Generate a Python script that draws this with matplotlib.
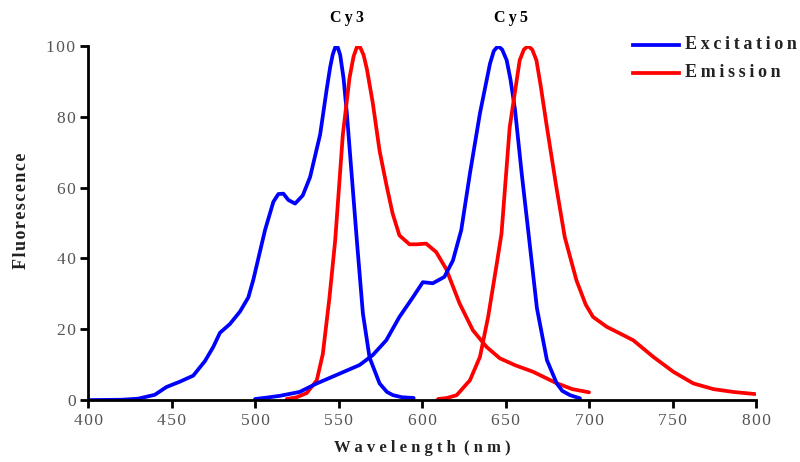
#Cy3 / Cy5 excitation and emission spectra

#Libraries
import matplotlib
matplotlib.use('Agg')
import matplotlib.pyplot as plt

#Cy3 excitation
cy3_ex_x=[400,420,430,440,447,455,463,470,475,479,485,491,496,499,503,506,511,514,517,520,524,528.6,533,539,543,545,546.5,548,549.5,551,553,555,558.5,561,564.6,568.6,574.6,579,582.6,588,595]
cy3_ex_y=[0,0.1,0.4,1.5,3.7,5.2,6.9,11,15,19,21.5,25,29,34,42,48,56,58.2,58.3,56.5,55.5,57.8,63,75,88,94,97.5,99.6,99.7,97.5,91,81,60,45,24.5,12,4.7,2.3,1.4,0.8,0.6]

#Cy3 emission
cy3_em_x=[519,525,531,537,540.6,544.6,548,552.6,556.6,559,561,563,565,567,570.5,574.6,578.6,582.4,586.5,592.5,597,602.5,608.5,614.5,622.5,630.5,638.7,646.6,656,666.5,680,690,700]
cy3_em_y=[0.3,0.8,2,5.6,13,29,45,75,91,97,99.7,99.6,97.5,93.5,84,70.4,61,52.7,46.5,44,44,44.2,41.8,37,27.3,19.7,15,11.8,9.8,8,4.9,3.1,2.2]

#Cy5 excitation
cy5_ex_x=[500,507,514.8,526.7,537,550.8,562.6,570.5,578.6,586.5,594.5,600.5,606.5,613.4,618.5,623.5,628.7,634.7,640.7,643,645.5,648,650.7,653,655.7,659.7,663.8,668.8,674.8,680.7,684,688.6,694.6]
cy5_ex_y=[0.3,0.7,1.2,2.3,4.7,7.5,9.9,12.7,16.9,23.5,29,33.3,33,34.8,39.4,48,64,81,95,98.6,100,99,96,90.5,82,64,47,26,11.3,4.7,2.6,1.4,0.5]

#Cy5 emission
cy5_em_x=[609.6,615,620.8,628.7,634.7,639.6,644.8,647.6,652.5,658.5,661,663.5,666,668.5,671,674.5,680.5,685.5,692.5,698,702.4,710.6,718.6,726.5,738.5,750.5,762.5,774.5,786.4,799.5]
cy5_em_y=[0.3,0.6,1.4,5.6,12.2,23.5,38.6,47,77,96,99,100,99,96,89,78,60,46,33.8,27,23.5,20.7,18.8,16.9,12.2,8,4.7,3.1,2.3,1.7]

xticks=[400,450,500,550,600,650,700,750,800]
yticks=[0,20,40,60,80,100]

serif='Liberation Serif'
blue='#0000ff'
red='#ff0000'
lw=2.7
ts='\u2009'

def spaced(s,sep=ts):
	return sep.join(list(s))

fig=plt.figure(figsize=(8,4.62),dpi=100)
ax=fig.add_axes([0.11,0.134,0.835,0.7664])

ax.plot(cy3_ex_x,cy3_ex_y,color=blue,lw=lw,solid_joinstyle='round',solid_capstyle='round')
ax.plot(cy3_em_x,cy3_em_y,color=red,lw=lw,solid_joinstyle='round',solid_capstyle='round')
ax.plot(cy5_ex_x,cy5_ex_y,color=blue,lw=lw,solid_joinstyle='round',solid_capstyle='round')
ax.plot(cy5_em_x,cy5_em_y,color=red,lw=lw,solid_joinstyle='round',solid_capstyle='round')

ax.set_xlim(400,800)
ax.set_ylim(0,100)
ax.set_xticks(xticks)
ax.set_yticks(yticks)
ax.set_xticklabels([spaced(str(v),'\u200a') for v in xticks],family=serif,fontsize=12.5,color='#555555')
ax.set_yticklabels([spaced(str(v),'\u200a') for v in yticks],family=serif,fontsize=12.5,color='#555555')
ax.tick_params(direction='out',length=6,width=2,color='black',pad=3)
for s in ['top','right']:
	ax.spines[s].set_visible(False)
for s in ['left','bottom']:
	ax.spines[s].set_linewidth(2)

ax.set_xlabel('W a v e l e n g t h  ( n m )',family=serif,fontsize=12,fontweight='bold',color='#222222',labelpad=8)
ax.set_ylabel(spaced('Fluorescence','\u200a'),family=serif,fontsize=13,fontweight='bold',color='#222222')
ax.yaxis.set_label_coords(-0.087,0.534)

#Dye labels
ax.text(555,108,spaced('Cy3'),family=serif,fontsize=11.5,fontweight='bold',ha='center',va='center',clip_on=False)
ax.text(653,108,spaced('Cy5'),family=serif,fontsize=11.5,fontweight='bold',ha='center',va='center',clip_on=False)

#Legend drawn by hand so it sits at the very edge like the original
fig.lines.append(plt.Line2D([0.791,0.849],[0.9026,0.9026],transform=fig.transFigure,color=blue,lw=lw))
fig.lines.append(plt.Line2D([0.791,0.849],[0.842,0.842],transform=fig.transFigure,color=red,lw=lw))
fig.text(0.856,0.9026,spaced('Excitation'),family=serif,fontsize=13,fontweight='bold',color='#222222',va='center')
fig.text(0.856,0.842,spaced('Emission'),family=serif,fontsize=13,fontweight='bold',color='#222222',va='center')

plt.savefig('out.png',dpi=100)
